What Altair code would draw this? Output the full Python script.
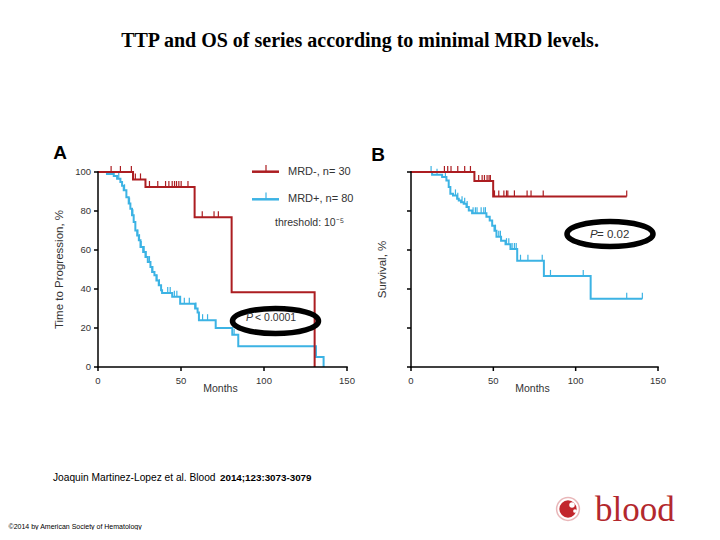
import altair as alt
import pandas as pd

# ---------------- data ----------------
# Panel A: Time to progression
A_red_t = [0, 21.1, 28.6, 58.2, 80.5, 130.5]
A_red_s = [100, 96.2, 92.3, 76.8, 38.3, 0]
A_red_cens_t = [7.9, 13.5, 20.1, 22.5, 25.6, 31, 36, 40.7, 42.7, 44.7, 46.1, 47.3, 48.7, 50.1, 54.2, 62.8, 69.9, 72.5]
A_red_cens_s = [100, 100, 100, 96.2, 96.2, 92.3, 92.3, 92.3, 92.3, 92.3, 92.3, 92.3, 92.3, 92.3, 92.3, 76.8, 76.8, 76.8]

A_blue_t = [0, 5.4, 9.5, 11.5, 13.5, 14.5, 15.5, 17.1, 18.5, 19.5, 20.5, 21.5, 22.5, 23.6, 24.6, 25.6,
            27.2, 28.6, 30, 31.6, 32.6, 34, 35.2, 36.6, 38, 38.6, 44.7, 49.5, 58.5, 60, 60.8, 70.9,
            80.9, 84.5, 131.3, 135.9]
A_blue_s = [100, 99, 98, 96.6, 94.9, 93, 90.6, 87, 83.8, 81.2, 77.8, 74.4, 70, 67.5, 65, 61.5,
            59, 56.4, 53.8, 51.3, 48.7, 47, 44.4, 41.9, 39.3, 38, 36, 32.5, 30, 28, 24, 20,
            16.6, 10.6, 5.1, 0]
A_blue_cens_t = [12.5, 16, 19, 21, 24, 25, 26, 27.8, 29, 31, 33, 35.5, 37, 42, 43.5, 46, 47.5, 52, 55, 59, 63, 66, 82]
A_blue_cens_s = [96.6, 90.6, 83.8, 77.8, 67.5, 65, 61.5, 59, 56.4, 53.8, 48.7, 44.4, 41.9, 38, 38, 36, 36, 32.5, 32.5, 30, 24, 24, 16.6]

# Panel B: Overall survival
B_red_t = [0, 38.5, 49.9, 131]
B_red_s = [100, 95.4, 87.5, 87.5]
B_red_cens_t = [20.3, 22.3, 24.3, 28.4, 32.6, 36.1, 41.1, 43.2, 44.6, 46.2, 47.4, 48.2,
                50.7, 53.3, 56.4, 58, 58.8, 62.8, 70.5, 72.9, 80.3, 131]
B_red_cens_s = [100, 100, 100, 100, 100, 100, 95.4, 95.4, 95.4, 95.4, 95.4, 95.4,
                87.5, 87.5, 87.5, 87.5, 87.5, 87.5, 87.5, 87.5, 87.5, 87.5]

B_blue_t = [0, 12.8, 18.9, 21.5, 22.9, 23.9, 25.5, 28, 29, 30.4, 32, 33.7, 35.1, 37.1, 45.8, 47.8,
            49.3, 50.7, 51.9, 54.7, 57.4, 60.4, 64.5, 80.7, 109.1, 140.5]
B_blue_s = [100, 98.6, 97.4, 95.7, 92.3, 88.8, 88, 86.3, 85.4, 84.5, 83.7, 82, 80.2, 78.9, 77.1, 75.1,
            72.5, 69.9, 66.8, 64.8, 63, 60.5, 54.5, 46.7, 35, 35]
B_blue_cens_t = [12.2, 15.8, 20.9, 27, 28.4, 31, 32.6, 34.1, 37.7, 39.1, 40.1, 42.6, 44.2, 45.2, 51.3,
                 53.3, 54.3, 58, 59.4, 61.4, 62.8, 63.9, 66.5, 71, 79.7, 84.7, 104.6, 131, 140.5]
B_blue_cens_s = [100, 98.6, 97.4, 88, 86.3, 84.5, 83.7, 82, 78.9, 78.9, 78.9, 78.9, 78.9, 78.9, 69.9,
                 66.8, 66.8, 63, 63, 60.5, 60.5, 60.5, 54.5, 54.5, 54.5, 46.7, 46.7, 35, 35]

x_ticks = [0, 50, 100, 150]
y_ticks = [0, 20, 40, 60, 80, 100]
x_range = [0, 150]
y_range = [0, 100]
legend_labels = ["MRD-, n= 30", "MRD+, n= 80"]

RED = "#ac1d21"
BLUE = "#3cb3e4"
TXT = "#333333"
FONT = "Liberation Sans"
W_A, W_B, H = 249, 247, 195

one = pd.DataFrame({"k": [0]})


def df(t, s):
    return pd.DataFrame({"t": t, "s": s})


def txt(text, x, y, size=11, weight="normal", font=FONT, color=TXT, align="left",
        baseline="middle", style="normal", angle=0):
    return alt.Chart(one).mark_text(text=text, fontSize=size, fontWeight=weight, font=font,
                                    color=color, align=align, baseline=baseline,
                                    fontStyle=style, angle=angle).encode(x=alt.value(x), y=alt.value(y))


def hrule(x1, x2, y, color, w):
    return alt.Chart(one).mark_rule(color=color, strokeWidth=w).encode(
        x=alt.value(x1), x2=alt.value(x2), y=alt.value(y))


def vrule(x, y1, y2, color, w, opacity=1):
    return alt.Chart(one).mark_rule(color=color, strokeWidth=w, opacity=opacity).encode(
        x=alt.value(x), y=alt.value(y1), y2=alt.value(y2))


ELLIPSE = "M-1,0A1,0.29,0,1,1,1,0A1,0.29,0,1,1,-1,0Z"


def ellipse(x, y, size):
    return alt.Chart(one).mark_point(shape=ELLIPSE, size=size, filled=False, stroke="black",
                                     strokeWidth=5.5, opacity=1).encode(x=alt.value(x), y=alt.value(y))


def dot(x, y, size, color, filled=True, sw=1):
    return alt.Chart(one).mark_point(shape="circle", size=size, filled=filled, color=color,
                                     strokeWidth=sw, opacity=1).encode(x=alt.value(x), y=alt.value(y))


def panel(width, ytitle, ytitle_x, show_ylabels, series, extra):
    xs = alt.Scale(domain=x_range, nice=False, zero=False)
    ys = alt.Scale(domain=y_range, nice=False, zero=False)

    def X(f):
        return alt.X(f, scale=xs, axis=None)

    def Y(f):
        return alt.Y(f, scale=ys, axis=None)

    layers = []
    for (t, s, ct, cs, col) in series:
        layers.append(alt.Chart(df(t, s)).mark_line(interpolate="step-after", color=col, strokeWidth=2)
                      .encode(x=X("t:Q"), y=Y("s:Q")))
        layers.append(alt.Chart(df(ct, cs)).mark_tick(orient="vertical", size=6, thickness=1.2,
                                                      yOffset=-3, color=col, opacity=1)
                      .encode(x=X("t:Q"), y=Y("s:Q")))

    # axes drawn through the panel's scales
    dom = pd.DataFrame({"t": [x_range[0]], "t2": [x_range[1]], "s": [y_range[0]], "s2": [y_range[1]]})
    xt = pd.DataFrame({"v": x_ticks, "lab": [str(v) for v in x_ticks]})
    yt = pd.DataFrame({"v": y_ticks, "lab": [str(v) for v in y_ticks]})
    axis_style = dict(color="black", strokeWidth=1.5)
    layers += [
        alt.Chart(dom).mark_rule(strokeCap="square", **axis_style).encode(x=X("t:Q"), x2="t2:Q", y=Y("s:Q")),
        alt.Chart(dom).mark_rule(strokeCap="square", **axis_style).encode(x=X("t:Q"), y=Y("s:Q"), y2="s2:Q"),
        alt.Chart(xt).mark_rule(**axis_style).encode(x=X("v:Q"), y=alt.value(H), y2=alt.value(H + 4)),
        alt.Chart(yt).mark_rule(**axis_style).encode(y=Y("v:Q"), x=alt.value(-4), x2=alt.value(0)),
        alt.Chart(xt).mark_text(font=FONT, fontSize=9.5, color=TXT, baseline="middle")
        .encode(x=X("v:Q"), y=alt.value(H + 14), text="lab:N"),
        txt("Months", width / 2 - 2, H + 21.5, size=10.5, align="center"),
        txt(ytitle, ytitle_x, H / 2, size=11.5, align="center", angle=270),
    ]
    if show_ylabels:
        layers.append(alt.Chart(yt).mark_text(font=FONT, fontSize=9.5, color=TXT, align="right",
                                              baseline="middle")
                      .encode(y=Y("v:Q"), x=alt.value(-7), text="lab:N"))
    return alt.layer(*layers, *extra).properties(width=width, height=H)


# annotations, in pixels relative to panel A's plot area
extraA = [
    vrule(-89.9, -163.9, -150, "white", 0.01, opacity=0),  # top-left anchor of the slide
    txt("TTP and OS of series according to minimal MRD levels.", 262, -131, size=20, weight="bold",
        font="Liberation Serif", color="black", align="center"),
    txt("A", -38, -19, size=19, weight="bold", color="black", align="center"),
    txt("B", 280, -17, size=19, weight="bold", color="black", align="center"),
    hrule(154, 181, -0.3, RED, 2.5),
    vrule(168, -7, -0.3, RED, 1.2),
    hrule(154, 181, 27.3, BLUE, 2.5),
    vrule(168, 20.6, 27.3, BLUE, 1.2),
    txt(legend_labels[0], 190, -0.3, size=11),
    txt(legend_labels[1], 190, 27.3, size=11),
    txt("threshold: 10\u207b\u2075", 177, 51, size=10.5),
    ellipse(177.5, 149, 7400),
    txt("P", 148, 146, size=10.5, style="italic"),
    txt("< 0.0001", 157, 146, size=10.5),
    ellipse(512, 62, 7400),
    txt("P", 492, 63, size=11.5, style="italic"),
    txt("= 0.02", 499, 63, size=11.5),
    txt("Joaquin Martinez-Lopez et al. Blood ", -45, 306, size=10.2, color="black"),
    txt("2014;123:3073-3079", 122, 306, size=9.8, weight="bold", color="black"),
    txt("\u00a92014 by American Society of Hematology", -89.5, 355, size=7, color="black"),
    dot(470, 337, 520, "#e9b7b9", filled=False, sw=1.5),
    dot(470, 337, 300, "#c2272d"),
    dot(474, 333, 30, "white"),
    dot(477, 339, 14, "white"),
    txt("blood", 497, 349, size=35, font="Liberation Serif", color="#b3282d", baseline="alphabetic"),
]

panelA = panel(W_A, "Time to Progression, %", -38, True,
               [(A_blue_t, A_blue_s, A_blue_cens_t, A_blue_cens_s, BLUE),
                (A_red_t, A_red_s, A_red_cens_t, A_red_cens_s, RED)], extraA)
panelB = panel(W_B, "Survival, %", -28, False,
               [(B_blue_t, B_blue_s, B_blue_cens_t, B_blue_cens_s, BLUE),
                (B_red_t, B_red_s, B_red_cens_t, B_red_cens_s, RED)], [])

chart = alt.hconcat(panelA, panelB, spacing=64, bounds="flush").properties(
    padding=0, background="white"
).configure_view(stroke=None)

chart.save("out.html", embed_options={"renderer": "svg", "actions": False})
